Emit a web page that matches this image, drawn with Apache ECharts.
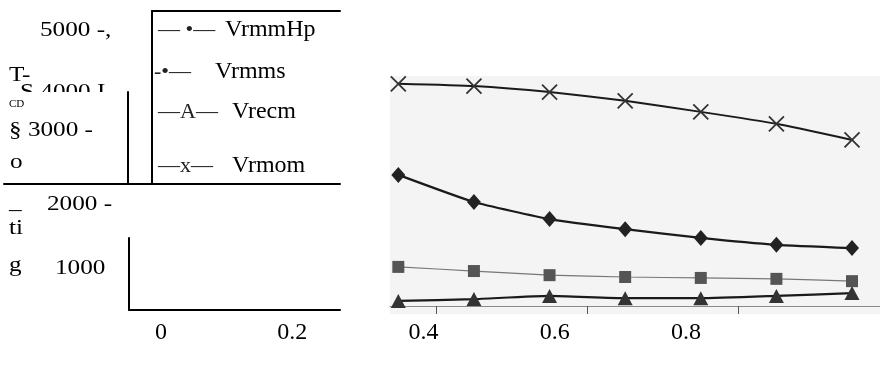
<!DOCTYPE html>
<html>
<head>
<meta charset="utf-8">
<script src="https://cdn.jsdelivr.net/npm/echarts@6/dist/echarts.min.js"></script>
<style>
  html, body { margin: 0; background: #fff; }
  #chart { width: 880px; height: 368px; }
</style>
</head>
<body>
<div id="chart"></div>
<script>
// values
var xValues = [0.35, 0.45, 0.55, 0.65, 0.75, 0.85, 0.95];
var vrmmHp = [2850, 2260, 1890, 1670, 1480, 1330, 1260];
var vrmms = [850, 760, 670, 630, 610, 590, 540];
var vrecm = [110, 150, 220, 170, 170, 220, 280];
var vrmom = [4830, 4780, 4650, 4460, 4220, 3960, 3610];

var seriesNames = ['VrmmHp', 'Vrmms', 'Vrecm', 'Vrmom'];
var legendGlyphs = ['— •—', '-•—', '—A—', '—x—'];
var xTickLabels = [0, 0.2, 0.4, 0.6, 0.8];
var scanTicks = [0.4, 0.6, 0.8];
var yTickLabels = ['5000 -,', 'S 4000 I', '§ 3000 -', '2000 -', '1000'];
var strayLabels = ['T-', 'CD', 'o', '_', 'ti', 'g'];

var serif = "'Liberation Serif', 'Times New Roman', serif";

function pairs(vals) {
  return xValues.map(function (x, i) { return [x, vals[i]]; });
}

// blank axis, only the line is shown when asked
function frameAxis(grid, extra) {
  var a = {
    gridIndex: grid, type: 'value', min: 0, max: 1,
    axisLine: { show: false, onZero: false, lineStyle: { color: '#000', width: 2 } },
    axisTick: { show: false }, axisLabel: { show: false }, splitLine: { show: false }
  };
  return Object.assign(a, extra || {});
}
var lineOn = { show: true, onZero: false, lineStyle: { color: '#000', width: 2 } };

// free text positions [x, y] and [x, y, fontSize]
var yLabelPos = [[40, 30], [20, 92], [9, 130], [47, 204], [55, 268]];
var strayPos = [[9, 75, 21], [9, 104, 11], [10, 162, 21], [9, 202, 21], [9, 228, 21], [9, 265, 21]];

var texts = [];
yTickLabels.forEach(function (t, i) {
  texts.push({
    type: 'text', x: yLabelPos[i][0], y: yLabelPos[i][1], scaleX: 1.2,
    z: i === 1 ? -1 : 5,
    style: { text: t, font: '21px ' + serif, fill: '#000', verticalAlign: 'middle' }
  });
});
strayLabels.forEach(function (t, i) {
  var p = strayPos[i];
  texts.push({
    type: 'text', x: p[0], y: p[1], scaleX: p[2] > 12 ? 1.2 : 1, z: 5,
    style: { text: t, font: p[2] + 'px ' + serif, fill: '#000', verticalAlign: 'middle' }
  });
});

var legendLeft = [153, 149, 153, 153];
var legendTop = [18, 60, 100, 154];
var glyphWidth = [67, 61, 74, 74];

var chart = echarts.init(document.getElementById('chart'));
chart.setOption({
  backgroundColor: '#fff',
  animation: false,
  grid: [
    { left: 152, top: 11, width: 188, height: 173 },          // legend frame
    { left: 4, top: 95, width: 336, height: 89 },             // long rule
    { left: 0, top: 92, width: 128, height: 92, show: true, backgroundColor: '#fff', borderWidth: 0 },
    { left: 129, top: 238, width: 211, height: 72 },          // small axis box
    { left: 161, top: 238, width: 525, height: 72 },          // x tick labels
    { left: 390, top: 76, width: 490, height: 238, show: true, backgroundColor: '#f4f4f4', borderWidth: 0 }
  ],
  xAxis: [
    frameAxis(0, { position: 'top', axisLine: lineOn }),
    frameAxis(1, { axisLine: lineOn }),
    frameAxis(2),
    frameAxis(3, { axisLine: lineOn }),
    {
      gridIndex: 4, type: 'value', min: 0, max: 0.8, interval: 0.2,
      axisLine: { show: false }, axisTick: { show: false }, splitLine: { show: false },
      axisLabel: {
        margin: 11, color: '#000', fontSize: 24, fontFamily: serif,
        customValues: xTickLabels
      }
    },
    {
      gridIndex: 5, type: 'value', min: 0.339, max: 0.987,
      axisLine: { show: true, onZero: true, lineStyle: { color: '#8a8a8a', width: 1 } },
      axisTick: { show: true, customValues: scanTicks, length: 8, lineStyle: { color: '#555', width: 1 } },
      axisLabel: { show: false }, splitLine: { show: false }
    }
  ],
  yAxis: [
    frameAxis(0, { axisLine: lineOn }),
    frameAxis(1),
    frameAxis(2, { position: 'right', axisLine: lineOn }),
    frameAxis(3, { axisLine: lineOn }),
    frameAxis(4),
    {
      gridIndex: 5, type: 'value', min: -174, max: 5000,
      axisLine: { show: false }, axisTick: { show: false },
      axisLabel: { show: false }, splitLine: { show: false }
    }
  ],
  legend: seriesNames.map(function (name, i) {
    return {
      data: [name], left: legendLeft[i], top: legendTop[i], padding: 0,
      icon: 'none', itemWidth: 0, itemHeight: 10, selectedMode: false,
      formatter: function (n) { return '{g|' + legendGlyphs[i] + '}{n|' + n + '}'; },
      textStyle: {
        rich: {
          g: { width: glyphWidth[i], fontSize: 22, fontFamily: serif, color: '#222', lineHeight: 26 },
          n: { fontSize: 24, fontFamily: serif, color: '#000', lineHeight: 26 }
        }
      }
    };
  }),
  graphic: { elements: texts },
  series: [
    {
      name: seriesNames[0], type: 'line', xAxisIndex: 5, yAxisIndex: 5,
      data: pairs(vrmmHp), smooth: 0.15,
      symbol: 'diamond', symbolSize: [14, 16],
      itemStyle: { color: '#222' }, lineStyle: { color: '#1a1a1a', width: 2.2 }
    },
    {
      name: seriesNames[1], type: 'line', xAxisIndex: 5, yAxisIndex: 5,
      data: pairs(vrmms), smooth: 0.15,
      symbol: 'rect', symbolSize: 12,
      itemStyle: { color: '#555' }, lineStyle: { color: '#777', width: 1.2 }
    },
    {
      name: seriesNames[2], type: 'line', xAxisIndex: 5, yAxisIndex: 5,
      data: pairs(vrecm), smooth: 0.15,
      symbol: 'triangle', symbolSize: [15, 14],
      itemStyle: { color: '#333' }, lineStyle: { color: '#1a1a1a', width: 2.2 }
    },
    {
      name: seriesNames[3], type: 'line', xAxisIndex: 5, yAxisIndex: 5,
      data: pairs(vrmom), smooth: 0.15,
      symbol: 'path://M0,0L10,10M10,0L0,10', symbolSize: 15,
      itemStyle: { color: '#333', borderColor: '#333', borderWidth: 1.8 },
      lineStyle: { color: '#1a1a1a', width: 2 }
    }
  ]
});
</script>
</body>
</html>
